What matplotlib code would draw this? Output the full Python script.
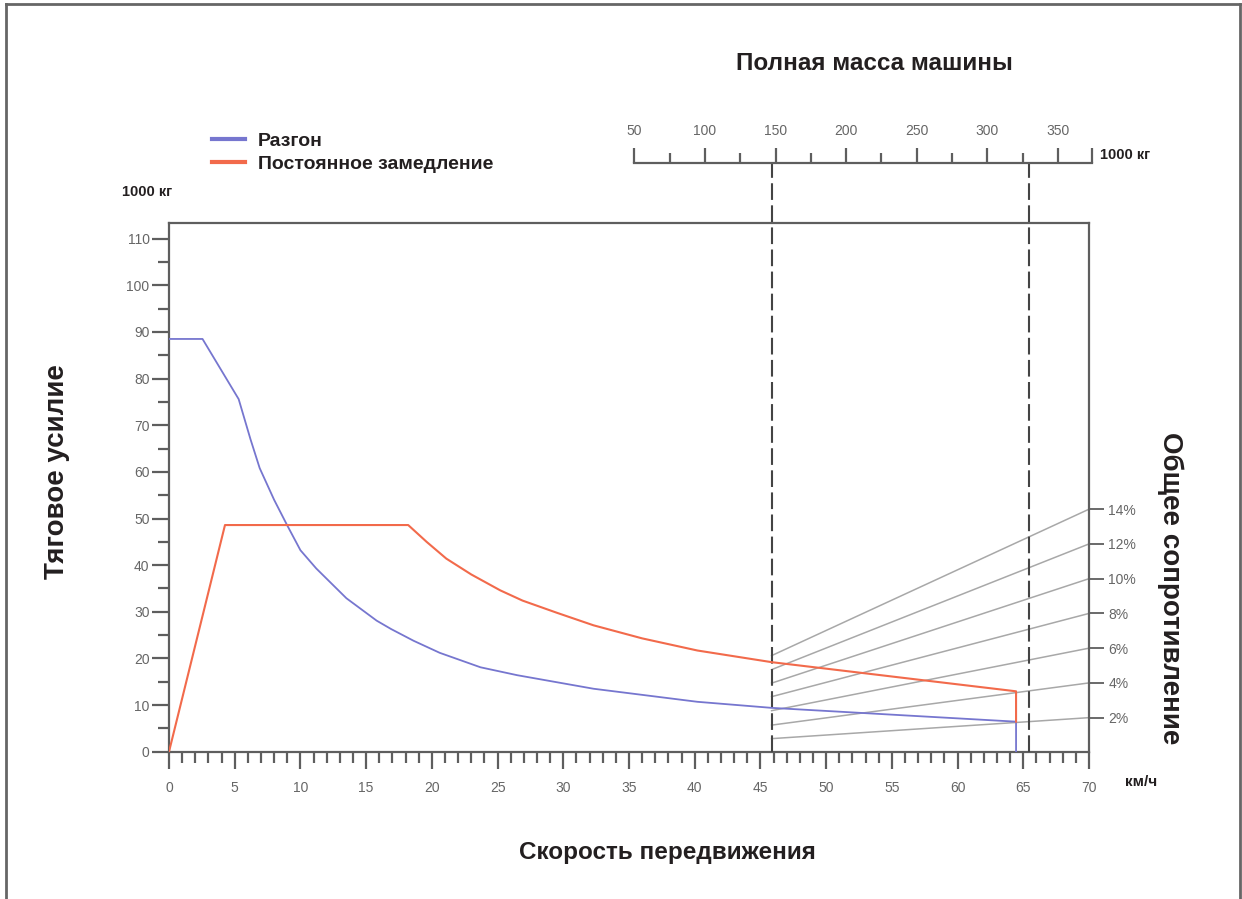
import matplotlib
matplotlib.use("Agg")
import matplotlib.pyplot as plt
from matplotlib.lines import Line2D
from matplotlib.ticker import MultipleLocator, FixedLocator, NullFormatter

plt.rcParams['font.family'] = ['Liberation Sans', 'DejaVu Sans']

# Tractive effort curves (speed km/h, force 1000 kg)
accel_speed = [0, 2.55, 5.3, 6.2, 6.9, 8.0, 9.0, 10.0, 11.2, 13.5, 15.8, 16.9,
               18.6, 20.6, 23.7, 26.5, 32.3, 40.2, 45.85, 64.45, 64.45]
accel_force = [88.5, 88.5, 75.6, 67.0, 60.8, 54.0, 48.5, 43.2, 39.3, 32.9, 28.1,
               26.3, 23.8, 21.2, 18.1, 16.4, 13.5, 10.7, 9.4, 6.44, 0.0]

decel_speed = [0, 4.26, 18.2, 19.6, 21.1, 23.0, 25.2, 26.9, 29.5, 32.3,
               36.0, 40.2, 45.85, 64.45, 64.45]
decel_force = [0, 48.6, 48.6, 45.0, 41.4, 38.0, 34.6, 32.4, 29.8, 27.1,
               24.3, 21.7, 19.2, 12.95, 6.44]

# Total resistance grade lines: value at left mass line and at right edge
grades = ['2%', '4%', '6%', '8%', '10%', '12%', '14%']
grade_left = [2.8, 5.7, 8.8, 11.8, 14.7, 17.6, 20.6]
grade_right = [7.3, 14.75, 22.2, 29.65, 37.1, 44.55, 52.0]
grade_x0, grade_x1 = 45.85, 70

# Machine gross mass lines (km/h positions)
mass_lines = [45.85, 65.4]

# Top mass scale (1000 kg)
mass_major = [50, 100, 150, 200, 250, 300, 350]
mass_minor = [75, 125, 175, 225, 275, 325]
mass_end = 374.4

blue = '#7676cf'
red = '#f26a4b'
axis_c = '#5e5e5e'
tick_c = '#666666'
text_c = '#231f20'

fig = plt.figure(figsize=(12.42, 8.99), dpi=100)
ax = fig.add_axes([169 / 1242, 1 - 751.7 / 899, 920 / 1242, 528.4 / 899])
ax.set_xlim(0, 70)
ax.set_ylim(0, 113.3)

la, = ax.plot(accel_speed, accel_force, color=blue, lw=1.3, label='Разгон', zorder=4)
ld, = ax.plot(decel_speed, decel_force, color=red, lw=1.5,
              label='Постоянное замедление', zorder=4)

for yl, yr in zip(grade_left, grade_right):
    ax.plot([grade_x0, grade_x1], [yl, yr], color='#a8a8a8', lw=1.1, zorder=2)

for xm in mass_lines:
    ax.axvline(xm, ymin=0, ymax=(751.7 - 163) / 528.4, color='#444444', lw=1.5,
               dashes=(8, 2.6), clip_on=False, zorder=3)

for side in ['left', 'right', 'top', 'bottom']:
    ax.spines[side].set_color(axis_c)
    ax.spines[side].set_linewidth(1.6)

ax.xaxis.set_major_locator(MultipleLocator(5))
ax.xaxis.set_minor_locator(MultipleLocator(1))
ax.yaxis.set_major_locator(MultipleLocator(10))
ax.yaxis.set_minor_locator(MultipleLocator(5))
ax.tick_params(axis='both', which='major', length=12, width=1.6, color=axis_c,
               labelcolor=tick_c, labelsize=10, direction='out', pad=6)
ax.tick_params(axis='both', which='minor', length=8, width=1.6, color=axis_c,
               direction='out')
ax.tick_params(axis='y', which='major', pad=2)
ax.tick_params(axis='x', which='major', pad=9)

# right grade scale
ax2 = ax.twinx()
ax2.set_ylim(ax.get_ylim())
ax2.yaxis.set_major_locator(FixedLocator(grade_right))
ax2.set_yticklabels(grades)
ax2.tick_params(axis='y', length=11, width=1.3, color=axis_c, labelcolor=tick_c,
                labelsize=10, pad=3)
for side in ['left', 'right', 'top', 'bottom']:
    ax2.spines[side].set_visible(False)

# top mass scale
axm = fig.add_axes([634.4 / 1242, 1 - 163 / 899, (1092.4 - 634.4) / 1242, 0.0001])
axm.set_xlim(50, mass_end)
axm.set_ylim(0, 1)
axm.patch.set_visible(False)
for side in ['left', 'right', 'bottom']:
    axm.spines[side].set_visible(False)
axm.spines['top'].set_color(axis_c)
axm.spines['top'].set_linewidth(1.6)
axm.xaxis.set_ticks_position('top')
axm.xaxis.set_label_position('top')
axm.xaxis.set_major_locator(FixedLocator(mass_major + [mass_end]))
axm.set_xticklabels([str(m) for m in mass_major] + [''])
axm.xaxis.set_minor_locator(FixedLocator(mass_minor))
axm.xaxis.set_minor_formatter(NullFormatter())
axm.tick_params(axis='x', which='major', length=11, width=1.6, color=axis_c,
                labelcolor=tick_c, labelsize=10, direction='out', pad=7)
axm.tick_params(axis='x', which='minor', length=7, width=1.6, color=axis_c,
                direction='out')
axm.set_yticks([])

# texts
bold = dict(fontweight='bold', color=text_c)
fig.text(874 / 1242, 1 - 63 / 899, 'Полная масса машины', ha='center', va='center',
         fontsize=17.5, **bold)
fig.text(1100 / 1242, 1 - 155 / 899, '1000 кг', ha='left', va='center',
         fontsize=10.5, **bold)
fig.text(122 / 1242, 1 - 192 / 899, '1000 кг', ha='left', va='center',
         fontsize=10.5, **bold)
fig.text(1125 / 1242, 1 - 782 / 899, 'км/ч', ha='left', va='center',
         fontsize=11, **bold)
fig.text(667 / 1242, 1 - 853 / 899, 'Скорость передвижения', ha='center',
         va='center', fontsize=17.5, **bold)
fig.text(57 / 1242, 1 - 472 / 899, 'Тяговое усилие', ha='center', va='center',
         rotation=90, fontsize=20, **bold)
fig.text(1170 / 1242, 1 - 588 / 899, 'Общее сопротивление', ha='center',
         va='center', rotation=-90, fontsize=20, **bold)

leg = fig.legend(handles=[la, ld], loc='upper left',
                 bbox_to_anchor=(212 / 1242, 1 - 132 / 899), frameon=False,
                 fontsize=14, handlelength=1.7, handletextpad=0.65,
                 labelspacing=0.3, borderaxespad=0, borderpad=0)
for line in leg.get_lines():
    line.set_linewidth(3)
for t in leg.get_texts():
    t.set_fontweight('bold')
    t.set_color(text_c)

# outer frame
frame_kw = dict(color='#666666', lw=2, transform=fig.transFigure)
fig.add_artist(Line2D([6 / 1242, 6 / 1242], [0, 1 - 4 / 899], **frame_kw))
fig.add_artist(Line2D([6 / 1242, 1240 / 1242], [1 - 4 / 899, 1 - 4 / 899], **frame_kw))
fig.add_artist(Line2D([1240 / 1242, 1240 / 1242], [0, 1 - 4 / 899], **frame_kw))

fig.savefig('out.png', dpi=100)
